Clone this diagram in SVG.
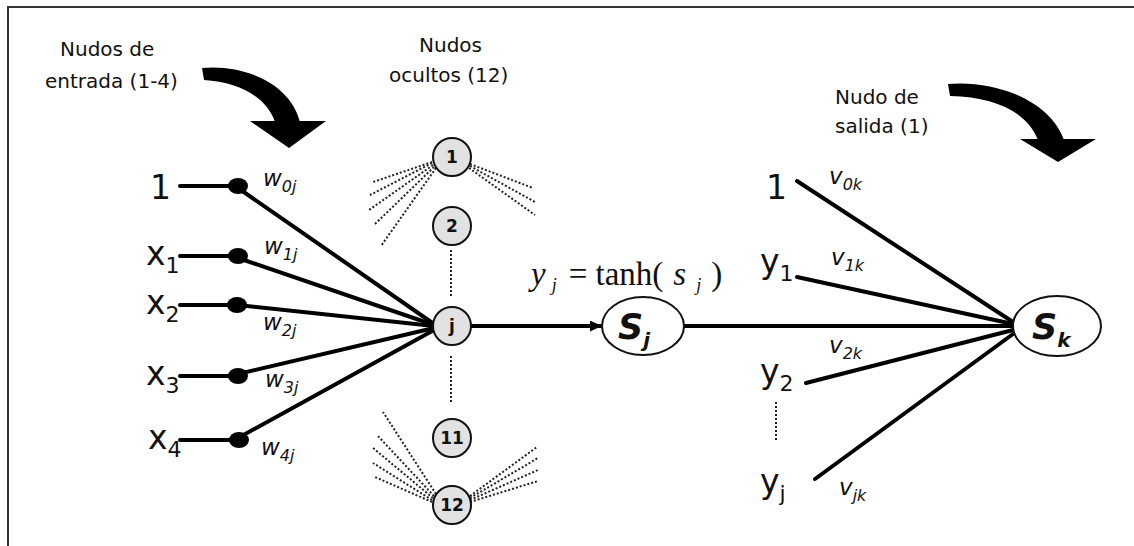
<svg xmlns="http://www.w3.org/2000/svg" width="1134" height="546" viewBox="0 0 1134 546">
  <style>
    .note { font-family: "DejaVu Sans", "Liberation Sans", sans-serif; font-size: 20px; fill: #111; }
    .var { font-family: "DejaVu Sans", "Liberation Sans", sans-serif; font-size: 33px; fill: #111; }
    .sub { font-size: 22px; }
    .w { font-family: "DejaVu Sans", "Liberation Sans", sans-serif; font-style: italic; font-size: 23px; fill: #111; }
    .wsub { font-size: 16px; }
    .num { font-family: "DejaVu Sans", "Liberation Sans", sans-serif; font-weight: bold; font-size: 17px; fill: #111; text-anchor: middle; }
    .sn { font-family: "DejaVu Sans", "Liberation Sans", sans-serif; font-weight: bold; font-style: italic; font-size: 35px; fill: #111; }
    .eq { font-family: "Liberation Serif", "DejaVu Serif", serif; font-size: 33px; fill: #111; }
    .hid { fill: #e2e2e2; stroke: #111; stroke-width: 2; }
    .out { fill: #fff; stroke: #111; stroke-width: 2; }
    .edge { stroke: #000; stroke-width: 4; fill: none; stroke-linecap: round; }
    .dot { stroke: #222; stroke-width: 2; stroke-dasharray: 2 2; fill: none; }
    .bigarrow { fill: #000; }
  </style>
  <defs>
    <marker id="ah" markerWidth="12" markerHeight="11" refX="11" refY="5.5" orient="auto" markerUnits="userSpaceOnUse">
      <path d="M0,0 L12,5.5 L0,11 Z" fill="#000"/>
    </marker>
  </defs>

  <rect width="1134" height="546" fill="#fff"/>
  <!-- frame -->
  <path d="M8,546 V7 H1134" fill="none" stroke="#333" stroke-width="2"/>

  <!-- captions -->
  <g id="cap-input">
    <text class="note" x="60" y="56">Nudos de</text>
    <text class="note" x="45" y="88">entrada (1-4)</text>
    <path class="bigarrow" d="M202,68 C242,64 290,82 300,122 L275,122 C267,98 240,82 204,80 Z"/>
    <path class="bigarrow" d="M250,121 L326,121 L289,148 Z"/>
  </g>
  <g id="cap-hidden">
    <text class="note" x="419" y="52">Nudos</text>
    <text class="note" x="389" y="82">ocultos (12)</text>
  </g>
  <g id="cap-output">
    <text class="note" x="835" y="104">Nudo de</text>
    <text class="note" x="835" y="133">salida (1)</text>
    <path class="bigarrow" d="M948,84 C995,80 1050,100 1064,140 L1038,140 C1028,114 998,97 950,96 Z"/>
    <path class="bigarrow" d="M1020,139 L1096,139 L1058,162 Z"/>
  </g>

  <!-- connectors -->
  <g id="connectors">
    <!-- input stubs -->
    <line class="edge" x1="180" y1="186" x2="236" y2="186"/>
    <line class="edge" x1="180" y1="256" x2="236" y2="256"/>
    <line class="edge" x1="180" y1="305" x2="236" y2="305"/>
    <line class="edge" x1="180" y1="376" x2="236" y2="376"/>
    <line class="edge" x1="180" y1="440" x2="236" y2="440"/>
    <!-- weighted links into node j -->
    <line class="edge" x1="238" y1="188" x2="434" y2="324"/>
    <line class="edge" x1="238" y1="258" x2="434" y2="325"/>
    <line class="edge" x1="238" y1="305" x2="434" y2="326"/>
    <line class="edge" x1="238" y1="374" x2="434" y2="328"/>
    <line class="edge" x1="238" y1="438" x2="434" y2="330"/>
    <!-- hidden layer ellipsis -->
    <line class="dot" x1="451" y1="250" x2="451" y2="298"/>
    <line class="dot" x1="451" y1="356" x2="451" y2="404"/>
    <!-- fans of node 1 -->
    <line class="dot" x1="432" y1="162" x2="373" y2="182"/>
    <line class="dot" x1="432" y1="163" x2="370" y2="195"/>
    <line class="dot" x1="433" y1="165" x2="369" y2="210"/>
    <line class="dot" x1="434" y1="167" x2="375" y2="224"/>
    <line class="dot" x1="436" y1="168" x2="381" y2="246"/>
    <line class="dot" x1="470" y1="164" x2="533" y2="188"/>
    <line class="dot" x1="470" y1="166" x2="535" y2="202"/>
    <line class="dot" x1="469" y1="168" x2="535" y2="215"/>
    <!-- fans of node 12 -->
    <line class="dot" x1="436" y1="494" x2="383" y2="412"/>
    <line class="dot" x1="434" y1="496" x2="377" y2="435"/>
    <line class="dot" x1="433" y1="498" x2="373" y2="448"/>
    <line class="dot" x1="432" y1="500" x2="373" y2="463"/>
    <line class="dot" x1="432" y1="502" x2="375" y2="477"/>
    <line class="dot" x1="470" y1="496" x2="537" y2="447"/>
    <line class="dot" x1="470" y1="498" x2="538" y2="458"/>
    <line class="dot" x1="470" y1="500" x2="538" y2="470"/>
    <line class="dot" x1="470" y1="502" x2="538" y2="481"/>
    <!-- j to s_j -->
    <line class="edge" x1="471" y1="326" x2="601" y2="326" marker-end="url(#ah)"/>
    <!-- s_j to s_k -->
    <line class="edge" x1="685" y1="326" x2="1013" y2="326"/>
    <!-- outputs into s_k -->
    <line class="edge" x1="797" y1="181" x2="1013" y2="322"/>
    <line class="edge" x1="797" y1="277" x2="1013" y2="324"/>
    <line class="edge" x1="806" y1="383" x2="1013" y2="330"/>
    <line class="edge" x1="815" y1="479" x2="1013" y2="334"/>
    <line class="dot" x1="776" y1="402" x2="776" y2="442"/>
  </g>

  <!-- input nodes -->
  <g id="in-bias">
    <text class="var" x="150" y="199">1</text>
    <ellipse cx="238" cy="186" rx="10" ry="8" fill="#000"/>
    <text class="w" x="263" y="186">w<tspan class="wsub" dy="6">0j</tspan></text>
  </g>
  <g id="in-x1">
    <text class="var" x="146" y="265">x<tspan class="sub" dy="8">1</tspan></text>
    <ellipse cx="238" cy="256" rx="10" ry="8" fill="#000"/>
    <text class="w" x="264" y="254">w<tspan class="wsub" dy="6">1j</tspan></text>
  </g>
  <g id="in-x2">
    <text class="var" x="146" y="314">x<tspan class="sub" dy="8">2</tspan></text>
    <ellipse cx="237" cy="305" rx="10" ry="8" fill="#000"/>
    <text class="w" x="263" y="330">w<tspan class="wsub" dy="6">2j</tspan></text>
  </g>
  <g id="in-x3">
    <text class="var" x="146" y="385">x<tspan class="sub" dy="8">3</tspan></text>
    <ellipse cx="238" cy="376" rx="10" ry="8" fill="#000"/>
    <text class="w" x="265" y="387">w<tspan class="wsub" dy="6">3j</tspan></text>
  </g>
  <g id="in-x4">
    <text class="var" x="148" y="449">x<tspan class="sub" dy="8">4</tspan></text>
    <ellipse cx="239" cy="440" rx="10" ry="8" fill="#000"/>
    <text class="w" x="261" y="455">w<tspan class="wsub" dy="6">4j</tspan></text>
  </g>

  <!-- hidden nodes -->
  <g id="h1"><circle class="hid" cx="452" cy="157" r="19"/><text class="num" x="452" y="163">1</text></g>
  <g id="h2"><circle class="hid" cx="452" cy="226" r="19"/><text class="num" x="452" y="232">2</text></g>
  <g id="hj"><circle class="hid" cx="452" cy="326" r="19"/><text class="num" x="452" y="332">j</text></g>
  <g id="h11"><circle class="hid" cx="452" cy="438" r="19"/><text class="num" x="452" y="444">11</text></g>
  <g id="h12"><circle class="hid" cx="452" cy="505" r="19"/><text class="num" x="452" y="511">12</text></g>

  <!-- activation -->
  <g id="activation">
    <text class="eq" x="531" y="285"><tspan font-style="italic">y</tspan><tspan font-style="italic" font-size="18" dy="6" dx="6">j</tspan><tspan dy="-6" dx="12">= tanh(</tspan><tspan font-style="italic" dx="10">s</tspan><tspan font-style="italic" font-size="18" dy="6" dx="10">j</tspan><tspan dy="-6" dx="10">)</tspan></text>
  </g>

  <!-- s_j node -->
  <g id="sj">
    <ellipse class="out" cx="643" cy="326" rx="41" ry="29"/>
    <text class="sn" x="618" y="339">S<tspan font-size="20" dy="8">j</tspan></text>
  </g>

  <!-- output-side inputs -->
  <g id="out-bias">
    <text class="var" x="766" y="199">1</text>
    <text class="w" x="829" y="184">v<tspan class="wsub" dy="6">0k</tspan></text>
  </g>
  <g id="out-y1">
    <text class="var" x="760" y="273">y<tspan class="sub" dy="8">1</tspan></text>
    <text class="w" x="831" y="265">v<tspan class="wsub" dy="6">1k</tspan></text>
  </g>
  <g id="out-y2">
    <text class="var" x="760" y="383">y<tspan class="sub" dy="8">2</tspan></text>
    <text class="w" x="829" y="353">v<tspan class="wsub" dy="6">2k</tspan></text>
  </g>
  <g id="out-yj">
    <text class="var" x="760" y="493">y<tspan class="sub" dy="8">j</tspan></text>
    <text class="w" x="839" y="495">v<tspan class="wsub" dy="6">jk</tspan></text>
  </g>

  <!-- s_k node -->
  <g id="sk">
    <ellipse class="out" cx="1057" cy="326" rx="44" ry="30"/>
    <text class="sn" x="1032" y="339">S<tspan font-size="20" dy="8">k</tspan></text>
  </g>
</svg>
